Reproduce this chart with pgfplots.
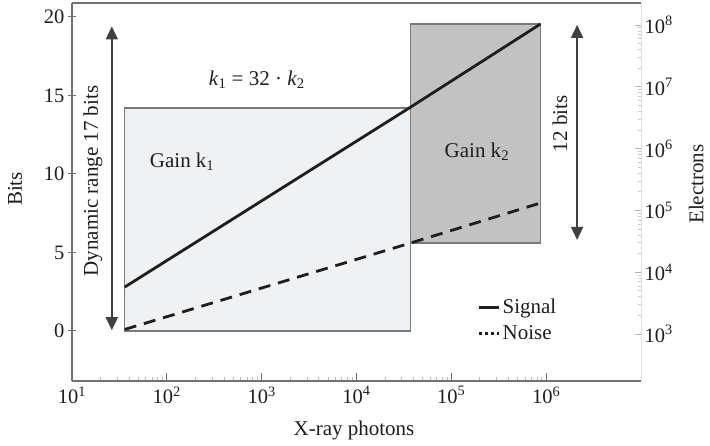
\documentclass[border=0pt]{standalone}
\usepackage{fontspec}
\setmainfont{Liberation Serif}
\usepackage{pgfplots}
\pgfplotsset{compat=1.18}
\usetikzlibrary{arrows.meta}
\definecolor{axgray}{HTML}{707070}
\definecolor{boxlight}{HTML}{F0F1F3}
\definecolor{boxdark}{HTML}{C2C2C2}
\definecolor{boxedge}{HTML}{7A7A7A}
\definecolor{ink}{HTML}{1E1E1E}
\begin{document}
\begin{tikzpicture}[font=\fontsize{21}{25}\selectfont]
\path[use as bounding box] (-72pt,-64pt) rectangle (638pt,381pt);
\begin{axis}[
  at={(0,0)}, anchor=south west,
  scale only axis, width=569pt, height=378pt,
  xmode=log, xmin=10, xmax=1e7,
  ymin=-3.185, ymax=20.89,
  axis x line*=bottom, axis y line*=left,
  axis line style={axgray, line width=1.2pt},
  xtick={1e1,1e2,1e3,1e4,1e5,1e6},
  xticklabels={10\textsuperscript{1},10\textsuperscript{2},10\textsuperscript{3},10\textsuperscript{4},10\textsuperscript{5},10\textsuperscript{6}},
  ytick={0,5,10,15,20},
  yticklabels={0,5,10,15,20},
  xtick align=inside, ytick align=center,
  major tick length=8pt, minor tick length=4pt,
  major tick style={axgray, line width=1pt},
  minor tick style={gray!55, line width=0.8pt},
  every tick label/.append style={ink, font=\fontsize{20.5}{24}\selectfont},
  xticklabel style={yshift=-2pt},
  xlabel={X-ray photons},
  ylabel={Bits},
  xlabel style={at={(axis description cs:0.4956,-0.13)}, anchor=center, ink},
  ylabel style={at={(axis description cs:-0.100,0.508)}, anchor=center, rotate=0, ink},
  clip=false,
  legend style={at={(axis description cs:0.709,0.228)}, anchor=north west, draw=none, fill=none,
    row sep=6.5pt, font=\fontsize{21}{25}\selectfont, text=ink, inner sep=2pt},
  legend cell align=left,
]
\addplot[draw=boxedge, fill=boxlight, line width=1.2pt, forget plot] coordinates {(36,0) (3.7e4,0) (3.7e4,14.2) (36,14.2)} -- cycle;
\addplot[draw=boxedge, fill=boxdark, line width=1.2pt, forget plot] coordinates {(3.7e4,5.6) (8.7e5,5.6) (8.7e5,19.55) (3.7e4,19.55)} -- cycle;
\addplot[ink, line width=2.8pt,
  legend image code/.code={\draw[ink, line width=3pt] (-5pt,0pt) -- (15pt,0pt);}]
  coordinates {(36,2.8) (3.7e4,14.25) (8.7e5,19.55)};
\addlegendentry{Signal}
\addplot[ink, line width=2.8pt, dash pattern=on 12pt off 8pt,
  legend image code/.code={\draw[ink, line width=2.8pt, dash pattern=on 3pt off 3pt] (-5pt,0pt) -- (15pt,0pt);}]
  coordinates {(36,0.1) (3.7e4,5.6) (8.7e5,8.15)};
\addlegendentry{Noise}
\draw[axgray, line width=1.2pt] (rel axis cs:0,1) -- (rel axis cs:1,1);
\draw[ink!85, line width=1.6pt, {Triangle[width=12pt,length=13pt]}-{Triangle[width=12pt,length=13pt]}] (axis cs:26.3,0.05) -- (axis cs:26.3,19.4);
\draw[ink!85, line width=1.6pt, {Triangle[width=12pt,length=13pt]}-{Triangle[width=12pt,length=13pt]}] (axis cs:2.12e6,5.8) -- (axis cs:2.12e6,19.5);
\node[rotate=90, ink] at (axis cs:16.6,9.55) {Dynamic range 17 bits};
\node[rotate=90, ink] at (axis cs:1.4e6,13.2) {12 bits};
\node[ink] at (axis cs:890,16.0) {\textit{k}\textsubscript{1} = 32 · \textit{k}\textsubscript{2}};
\node[ink] at (axis cs:145,10.8) {Gain k\textsubscript{1}};
\node[ink] at (axis cs:1.86e5,11.4) {Gain k\textsubscript{2}};
\end{axis}
\begin{axis}[
  at={(0,0)}, anchor=south west,
  scale only axis, width=569pt, height=378pt,
  xmode=log, xmin=10, xmax=1e7,
  hide x axis,
  axis y line*=right,
  ymode=log, ymin=173.8, ymax=2.27e8,
  axis line style={gray!25, line width=0.8pt},
  ytick={1e3,1e4,1e5,1e6,1e7,1e8},
  yticklabels={10\textsuperscript{3},10\textsuperscript{4},10\textsuperscript{5},10\textsuperscript{6},10\textsuperscript{7},10\textsuperscript{8}},
  ytick align=inside,
  major tick length=6pt, minor tick length=3.5pt,
  major tick style={gray!60, line width=0.8pt},
  minor tick style={gray!40, line width=0.8pt},
  every tick label/.append style={ink, font=\fontsize{20.5}{24}\selectfont},
  ylabel={Electrons},
  ylabel style={at={(axis description cs:1.097,0.521)}, anchor=center, rotate=0, ink},
]
\end{axis}
\end{tikzpicture}
\end{document}
